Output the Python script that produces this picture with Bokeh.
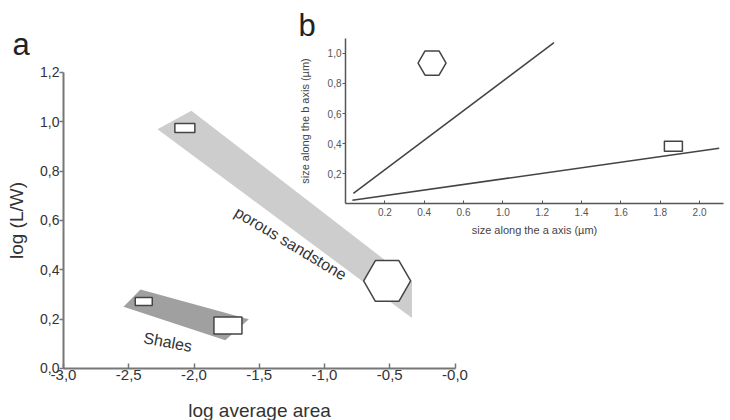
from bokeh.plotting import figure
from bokeh.models import Range1d, LinearAxis, FixedTicker
from bokeh.core.properties import value
from bokeh.embed import file_html
from bokeh.resources import INLINE

# ---------------- data: panel a ----------------
main_x_ticks = [-3.0, -2.5, -2.0, -1.5, -1.0, -0.5, 0.0]
main_x_labels = ["-3,0", "-2,5", "-2,0", "-1,5", "-1,0", "-0,5", "-0,0"]
main_y_ticks = [0.0, 0.2, 0.4, 0.6, 0.8, 1.0, 1.2]
main_y_labels = ["0,0", "0,2", "0,4", "0,6", "0,8", "1,0", "1,2"]

sand_x = [-2.28, -2.02, -0.33, -0.33]
sand_y = [0.97, 1.045, 0.355, 0.205]
shale_x = [-2.54, -2.41, -1.58, -1.76]
shale_y = [0.25, 0.32, 0.20, 0.115]

crystal_x = [-2.07, -2.385, -1.74]
crystal_y = [0.975, 0.272, 0.174]
hex_x = [-0.52]
hex_y = [0.355]

# ---------------- data: panel b (inset) ----------------
inset_x_ticks = [0.2, 0.4, 0.6, 0.8, 1.0, 1.2, 1.4, 1.6, 1.8]
inset_x_labels = ["0.2", "0.4", "0.6", "1.0", "1.2", "1.4", "1.6", "1.8", "2.0"]
inset_y_ticks = [0.2, 0.4, 0.6, 0.8, 1.0]
inset_y_labels = ["0,2", "0,4", "0,6", "0,8", "1,0"]

line1_x = [0.04, 1.06]
line1_y = [0.07, 1.07]
line2_x = [0.035, 1.90]
line2_y = [0.025, 0.37]
inset_hex_x = [0.44]
inset_hex_y = [0.935]
inset_rect_x = [1.667]
inset_rect_y = [0.383]

FONT = "Liberation Sans"

p = figure(width=730, height=420, output_backend="svg", toolbar_location=None,
           title=None, x_axis_type=None, y_axis_type=None,
           x_range=Range1d(-3.4828, 2.1111), y_range=Range1d(-0.2108, 1.4917),
           min_border=0, outline_line_color=None)
p.extra_x_ranges = {"ix": Range1d(-1.7539, 1.9573)}
p.extra_y_ranges = {"iy": Range1d(-1.4362, 1.3499)}
p.background_fill_color = "white"

# ---------------- panel a ----------------
p.patch(sand_x, sand_y, fill_color="#cdcdcd", line_color=None)
p.patch(shale_x, shale_y, fill_color="#a0a0a0", line_color=None)

p.rect(x=crystal_x, y=crystal_y, width=[20, 17, 28], height=[9, 8, 17],
       width_units="screen", height_units="screen",
       fill_color="white", line_color="#444444", line_width=1.5)
p.scatter(x=hex_x, y=hex_y, marker="hex", size=47,
          fill_color="white", line_color="#444444", line_width=1.5)

p.text(x=[-1.26], y=[0.507], text=["porous sandstone"], angle=-31, angle_units="deg",
       text_font=value(FONT), text_font_size="16px", text_color="#333333",
       text_align="center", text_baseline="middle")
p.text(x=[-2.2], y=[0.107], text=["Shales"], angle=-10.6, angle_units="deg",
       text_font=value(FONT), text_font_size="16px", text_color="#333333",
       text_align="center", text_baseline="middle")

xa = LinearAxis(fixed_location=0, bounds=(-3, 0),
                ticker=FixedTicker(ticks=main_x_ticks),
                major_label_overrides=dict(zip(main_x_ticks, main_x_labels)),
                axis_label="log average area")
ya = LinearAxis(fixed_location=-3, bounds=(0, 1.2),
                ticker=FixedTicker(ticks=main_y_ticks),
                major_label_overrides=dict(zip(main_y_ticks, main_y_labels)),
                axis_label="log (L/W)")
for ax in (xa, ya):
    ax.axis_line_color = "#777777"
    ax.axis_line_width = 2
    ax.major_tick_line_color = "#777777"
    ax.major_tick_line_width = 1.5
    ax.minor_tick_line_color = None
    ax.major_label_text_font = FONT
    ax.major_label_text_color = "#333333"
    ax.axis_label_text_font = FONT
    ax.axis_label_text_font_size = "19px"
    ax.axis_label_text_font_style = "normal"
    ax.axis_label_text_color = "#333333"
xa.major_label_text_font_size = "15px"
ya.major_label_text_font_size = "14px"
xa.major_tick_in = 5
xa.major_tick_out = 0
xa.major_label_standoff = 2
xa.axis_label_standoff = 16
ya.major_tick_in = 0
ya.major_tick_out = 4
ya.major_label_standoff = 0
ya.axis_label_standoff = 10
p.add_layout(xa, "below")
p.add_layout(ya, "left")

p.text(x=[-3.391], y=[1.313], text=["a"], text_font=value(FONT), text_font_size="31px",
       text_color="#222222", text_baseline="alphabetic")
p.text(x=[-1.199], y=[1.390], text=["b"], text_font=value(FONT), text_font_size="31px",
       text_color="#222222", text_baseline="alphabetic")

# ---------------- panel b (inset) ----------------
p.line(line1_x, line1_y, x_range_name="ix", y_range_name="iy", line_color="#444444", line_width=1.5)
p.line(line2_x, line2_y, x_range_name="ix", y_range_name="iy", line_color="#444444", line_width=1.5)
p.scatter(x=inset_hex_x, y=inset_hex_y, marker="hex", size=28, x_range_name="ix", y_range_name="iy",
          fill_color="white", line_color="#444444", line_width=1.5)
p.rect(x=inset_rect_x, y=inset_rect_y, width=18, height=10, width_units="screen", height_units="screen",
       x_range_name="ix", y_range_name="iy", fill_color="white", line_color="#444444", line_width=1.5)

ixa = LinearAxis(x_range_name="ix", y_range_name="iy", fixed_location=0, bounds=(0, 1.92),
                 ticker=FixedTicker(ticks=inset_x_ticks),
                 major_label_overrides=dict(zip(inset_x_ticks, inset_x_labels)),
                 axis_label="size along the a axis (µm)")
iya = LinearAxis(x_range_name="ix", y_range_name="iy", fixed_location=0, bounds=(0, 1.10),
                 ticker=FixedTicker(ticks=inset_y_ticks),
                 major_label_overrides=dict(zip(inset_y_ticks, inset_y_labels)),
                 axis_label="size along the b axis (µm)")
for ax in (ixa, iya):
    ax.axis_line_color = "#555555"
    ax.axis_line_width = 1.5
    ax.major_tick_line_color = "#555555"
    ax.major_tick_line_width = 1
    ax.minor_tick_line_color = None
    ax.major_label_text_font = FONT
    ax.major_label_text_font_size = "10px"
    ax.major_label_text_color = "#555555"
    ax.axis_label_text_font = FONT
    ax.axis_label_text_font_size = "11px"
    ax.axis_label_text_font_style = "normal"
    ax.axis_label_text_color = "#444444"
ixa.major_tick_in = 3
ixa.major_tick_out = 0
ixa.major_label_standoff = 4
ixa.axis_label_standoff = 5
iya.major_tick_in = 0
iya.major_tick_out = 3
iya.major_label_standoff = 1
iya.axis_label_standoff = 14
p.add_layout(ixa, "below")
p.add_layout(iya, "left")

open("out.html", "w").write(file_html(p, INLINE))
